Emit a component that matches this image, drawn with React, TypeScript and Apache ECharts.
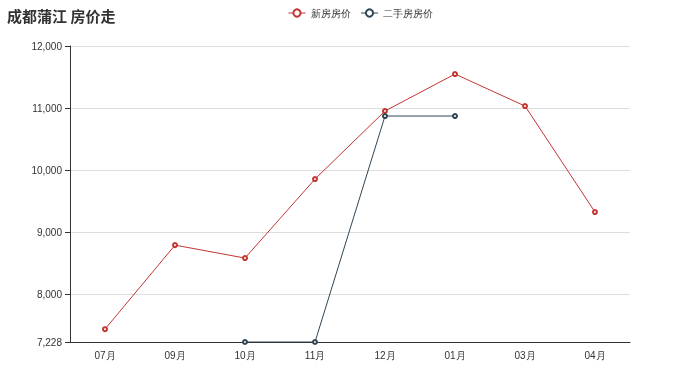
import React, { useEffect, useRef } from "react";
import * as echarts from "echarts";

const months = ["07月", "09月", "10月", "11月", "12月", "01月", "03月", "04月"];
const newHomePrice = [7435, 8790, 8581, 9855, 10952, 11548, 11032, 9323];
const resalePrice = [null, null, 7228, 7228, 10871, 10871, null, null];
const seriesNames = ["新房房价", "二手房房价"];
const titleText = "成都蒲江 房价走";

export default function App() {
  const ref = useRef<HTMLDivElement>(null);

  useEffect(() => {
    if (!ref.current) return;
    const chart = echarts.init(ref.current, undefined, { renderer: "svg" });
    chart.setOption({
      animation: false,
      color: ["#c23531", "#2f4554"],
      title: {
        text: titleText,
        left: 2,
        top: 3,
        textStyle: {
          fontSize: 15,
          fontWeight: "bold",
          color: "#333",
          fontFamily: "'Noto Sans CJK SC', sans-serif",
        },
      },
      legend: {
        data: seriesNames,
        top: 3,
        left: 283,
        itemWidth: 17,
        itemHeight: 9,
        itemGap: 10,
        lineStyle: { width: 1 },
        itemStyle: { borderWidth: 1 },
        textStyle: { fontSize: 10, color: "#333" },
      },
      grid: { left: 70, right: 70, top: 46, bottom: 47, containLabel: false },
      xAxis: {
        type: "category",
        data: months,
        boundaryGap: true,
        axisLine: { lineStyle: { color: "#333" } },
        axisTick: { lineStyle: { color: "#333" } },
        axisLabel: { fontSize: 10, color: "#333", margin: 8 },
      },
      yAxis: {
        type: "value",
        min: 7228,
        max: 12000,
        splitNumber: 5,
        axisLine: { show: true, lineStyle: { color: "#333" } },
        axisTick: { show: true, lineStyle: { color: "#333" } },
        axisLabel: { fontSize: 10, color: "#333" },
        splitLine: { lineStyle: { color: "#ddd" } },
      },
      series: [
        {
          name: seriesNames[0],
          type: "line",
          data: newHomePrice,
          symbol: "emptyCircle",
          symbolSize: 4,
          itemStyle: { borderWidth: 1 },
          lineStyle: { width: 1 },
        },
        {
          name: seriesNames[1],
          type: "line",
          data: resalePrice,
          symbol: "emptyCircle",
          symbolSize: 4,
          itemStyle: { borderWidth: 1 },
          lineStyle: { width: 1 },
        },
      ],
    });
    return () => chart.dispose();
  }, []);

  return (
    <div
      ref={ref}
      style={{ position: "fixed", left: 0, top: 0, width: 700, height: 389 }}
    />
  );
}
